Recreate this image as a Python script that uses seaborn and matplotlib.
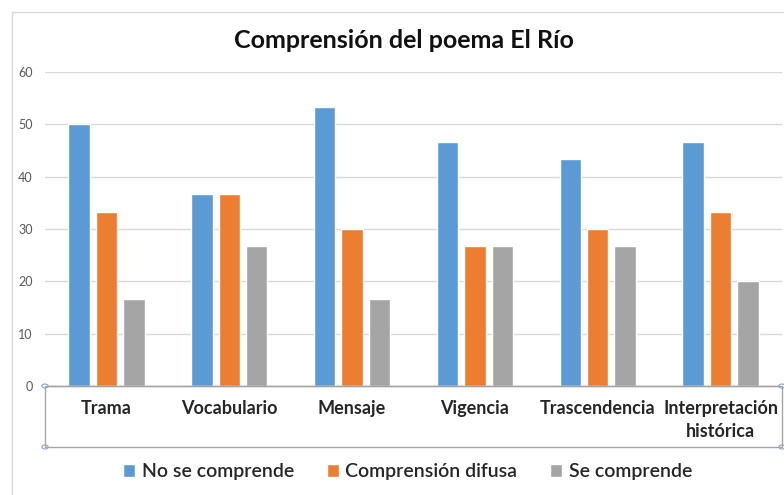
import matplotlib
matplotlib.use("Agg")
import matplotlib.pyplot as plt
from matplotlib.patches import Rectangle
import pandas as pd
import seaborn as sns

# Data
categories = ["Trama", "Vocabulario", "Mensaje", "Vigencia", "Trascendencia",
              "Interpretación\nhistórica"]
series_names = ["No se comprende", "Comprensión difusa", "Se comprende"]
no_comprende = [50.0, 36.7, 53.3, 46.7, 43.3, 46.7]
difusa = [33.3, 36.7, 30.0, 26.7, 30.0, 33.3]
se_comprende = [16.7, 26.7, 16.7, 26.7, 26.7, 20.0]
y_ticks = [0, 10, 20, 30, 40, 50, 60]

colors = ["#5B9BD5", "#ED7D31", "#A5A5A5"]

# long-form table for seaborn
rows = []
for name, vals in zip(series_names, [no_comprende, difusa, se_comprende]):
    for cat, v in zip(categories, vals):
        rows.append({"cat": cat, "serie": name, "valor": v})
df = pd.DataFrame(rows)

sns.set_theme(style="white")
plt.rcParams['font.family'] = ['Lato', 'DejaVu Sans']

fig = plt.figure(figsize=(7.84, 4.95), dpi=100)
ax = fig.add_axes([45 / 784, 1 - 386 / 495, 737 / 784, 314 / 495])

sns.barplot(data=df, x="cat", y="valor", hue="serie", order=categories,
            hue_order=series_names, palette=colors, width=0.67, gap=0.22,
            saturation=1, ax=ax, legend=True)

ax.set_ylim(0, 60)
ax.set_yticks(y_ticks)
ax.set_xlim(-0.5, len(categories) - 0.5)
ax.yaxis.grid(True, color="#D9D9D9", linewidth=1)
ax.set_axisbelow(True)
ax.set_xlabel("")
ax.set_ylabel("")
for s in ["top", "right", "left"]:
    ax.spines[s].set_visible(False)
ax.spines["bottom"].set_color("#A6A6A6")
ax.spines["bottom"].set_linewidth(1)
ax.tick_params(axis="y", length=0, pad=9, labelsize=9, labelcolor="#595959")
ax.tick_params(axis="x", length=0, pad=10, labelsize=13)
for lbl in ax.get_xticklabels():
    lbl.set_fontweight("bold")
    lbl.set_color("#262626")
    lbl.set_linespacing(1.45)

# legend below the plot
handles, labels = ax.get_legend_handles_labels()
ax.get_legend().remove()
fig.legend(handles, labels, loc="center", bbox_to_anchor=(0.52, 1 - 472 / 495),
           ncol=3, frameon=False, handlelength=0.6,
           handleheight=0.6, handletextpad=0.35, columnspacing=1.7,
           prop={"weight": "semibold", "size": 14})

fig.text(0.515, 1 - 40 / 495, "Comprensión del poema El Río", ha="center",
         va="center", fontsize=18, fontweight="bold", color="#111111")

# outer chart frame (partly visible) and selected axis box
fig.patches.append(Rectangle((12 / 784, -0.1), 1.2, 1 - 12 / 495 + 0.1,
                             transform=fig.transFigure, fill=False,
                             edgecolor="#D9D9D9", linewidth=1))
fig.patches.append(Rectangle((45 / 784, 1 - 447 / 495), 737 / 784, 61 / 495,
                             transform=fig.transFigure, fill=False,
                             edgecolor="#A6A6A6", linewidth=1))
for px, py in [(45, 386), (45, 447), (782, 386), (782, 447)]:
    fig.add_artist(plt.Circle((px / 784, 1 - py / 495), 0.004,
                              transform=fig.transFigure, facecolor="white",
                              edgecolor="#7FA7D0", linewidth=0.8))

fig.savefig("out.png", dpi=100)
